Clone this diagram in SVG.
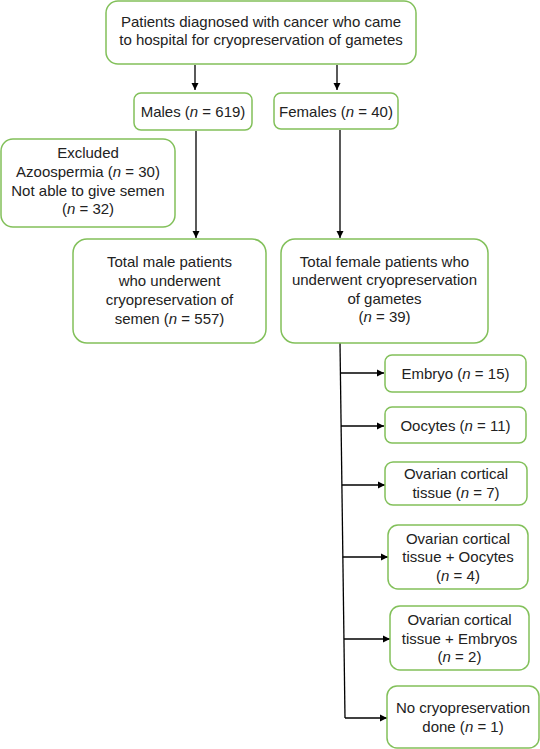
<svg xmlns="http://www.w3.org/2000/svg" width="540" height="749" viewBox="0 0 540 749">
<defs>
<style>
.box{fill:#fff;stroke:#82c05a;stroke-width:1.5}
.t{font-family:"Liberation Sans",Arial,sans-serif;font-size:15px;fill:#222;text-anchor:middle}
.c{stroke:#000;stroke-width:1.3;fill:none}
</style>
<marker id="ah" markerWidth="8" markerHeight="8" refX="7" refY="4" orient="auto" markerUnits="userSpaceOnUse">
<path d="M0,0.5 L7,4 L0,7.5 Z" fill="#000"/>
</marker>
</defs>
<rect width="540" height="749" fill="#fff"/>
<g id="connectors">
<line class="c" x1="195" y1="65" x2="195" y2="90" marker-end="url(#ah)"/>
<line class="c" x1="337" y1="65" x2="337" y2="90" marker-end="url(#ah)"/>
<line class="c" x1="196" y1="131" x2="196" y2="238" marker-end="url(#ah)"/>
<line class="c" x1="340" y1="130" x2="340" y2="238" marker-end="url(#ah)"/>
<line class="c" x1="340" y1="343" x2="345" y2="718"/>
<line class="c" x1="340.4" y1="373" x2="384" y2="373" marker-end="url(#ah)"/>
<line class="c" x1="341" y1="426" x2="384" y2="426" marker-end="url(#ah)"/>
<line class="c" x1="341.8" y1="485" x2="385" y2="485" marker-end="url(#ah)"/>
<line class="c" x1="342.8" y1="557" x2="388" y2="557" marker-end="url(#ah)"/>
<line class="c" x1="343.9" y1="639" x2="390" y2="639" marker-end="url(#ah)"/>
<line class="c" x1="345" y1="718" x2="387" y2="718" marker-end="url(#ah)"/>
</g>
<g id="n-top">
<rect class="box" x="106" y="1" width="310" height="63" rx="12"/>
<text class="t" x="261" y="27">Patients diagnosed with cancer who came</text>
<text class="t" x="261" y="45">to hospital for cryopreservation of gametes</text>
</g>
<g id="n-males">
<rect class="box" x="134" y="93" width="118" height="37" rx="7"/>
<text class="t" x="193" y="116.5">Males (<tspan font-style="italic">n</tspan> = 619)</text>
</g>
<g id="n-females">
<rect class="box" x="274" y="93" width="124" height="36" rx="7"/>
<text class="t" x="336" y="116.5">Females (<tspan font-style="italic">n</tspan> = 40)</text>
</g>
<g id="n-excluded">
<rect class="box" x="1" y="139" width="174" height="88" rx="12"/>
<text class="t" x="88" y="158">Excluded</text>
<text class="t" x="88" y="177">Azoospermia (<tspan font-style="italic">n</tspan> = 30)</text>
<text class="t" x="88" y="196">Not able to give semen</text>
<text class="t" x="88" y="214">(<tspan font-style="italic">n</tspan> = 32)</text>
</g>
<g id="n-male-total">
<rect class="box" x="73" y="239" width="193" height="104" rx="14"/>
<text class="t" x="169.5" y="267">Total male patients</text>
<text class="t" x="169.5" y="285.5">who underwent</text>
<text class="t" x="169.5" y="304.5">cryopreservation of</text>
<text class="t" x="169.5" y="323.5">semen (<tspan font-style="italic">n</tspan> = 557)</text>
</g>
<g id="n-female-total">
<rect class="box" x="281" y="239" width="207" height="104" rx="14"/>
<text class="t" x="384.5" y="266.5">Total female patients who</text>
<text class="t" x="384.5" y="285">underwent cryopreservation</text>
<text class="t" x="384.5" y="303.5">of gametes</text>
<text class="t" x="384.5" y="322">(<tspan font-style="italic">n</tspan> = 39)</text>
</g>
<g id="n-embryo">
<rect class="box" x="385" y="355" width="141" height="37" rx="7"/>
<text class="t" x="455.5" y="378.5">Embryo (<tspan font-style="italic">n</tspan> = 15)</text>
</g>
<g id="n-oocytes">
<rect class="box" x="385" y="407" width="141" height="36" rx="7"/>
<text class="t" x="455.5" y="430.5">Oocytes (<tspan font-style="italic">n</tspan> = 11)</text>
</g>
<g id="n-ovarian">
<rect class="box" x="385" y="462" width="142" height="43" rx="8"/>
<text class="t" x="456" y="478.5">Ovarian cortical</text>
<text class="t" x="456" y="497.5">tissue (<tspan font-style="italic">n</tspan> = 7)</text>
</g>
<g id="n-ovarian-oocytes">
<rect class="box" x="388" y="525" width="140" height="64" rx="10"/>
<text class="t" x="458" y="543.5">Ovarian cortical</text>
<text class="t" x="458" y="562">tissue + Oocytes</text>
<text class="t" x="458" y="581">(<tspan font-style="italic">n</tspan> = 4)</text>
</g>
<g id="n-ovarian-embryos">
<rect class="box" x="390" y="606" width="139" height="64" rx="10"/>
<text class="t" x="459.5" y="625">Ovarian cortical</text>
<text class="t" x="459.5" y="643.5">tissue + Embryos</text>
<text class="t" x="459.5" y="661.5">(<tspan font-style="italic">n</tspan> = 2)</text>
</g>
<g id="n-none">
<rect class="box" x="387" y="686" width="152" height="62" rx="10"/>
<text class="t" x="463" y="712.5">No cryopreservation</text>
<text class="t" x="463" y="731.5">done (<tspan font-style="italic">n</tspan> = 1)</text>
</g>
</svg>
